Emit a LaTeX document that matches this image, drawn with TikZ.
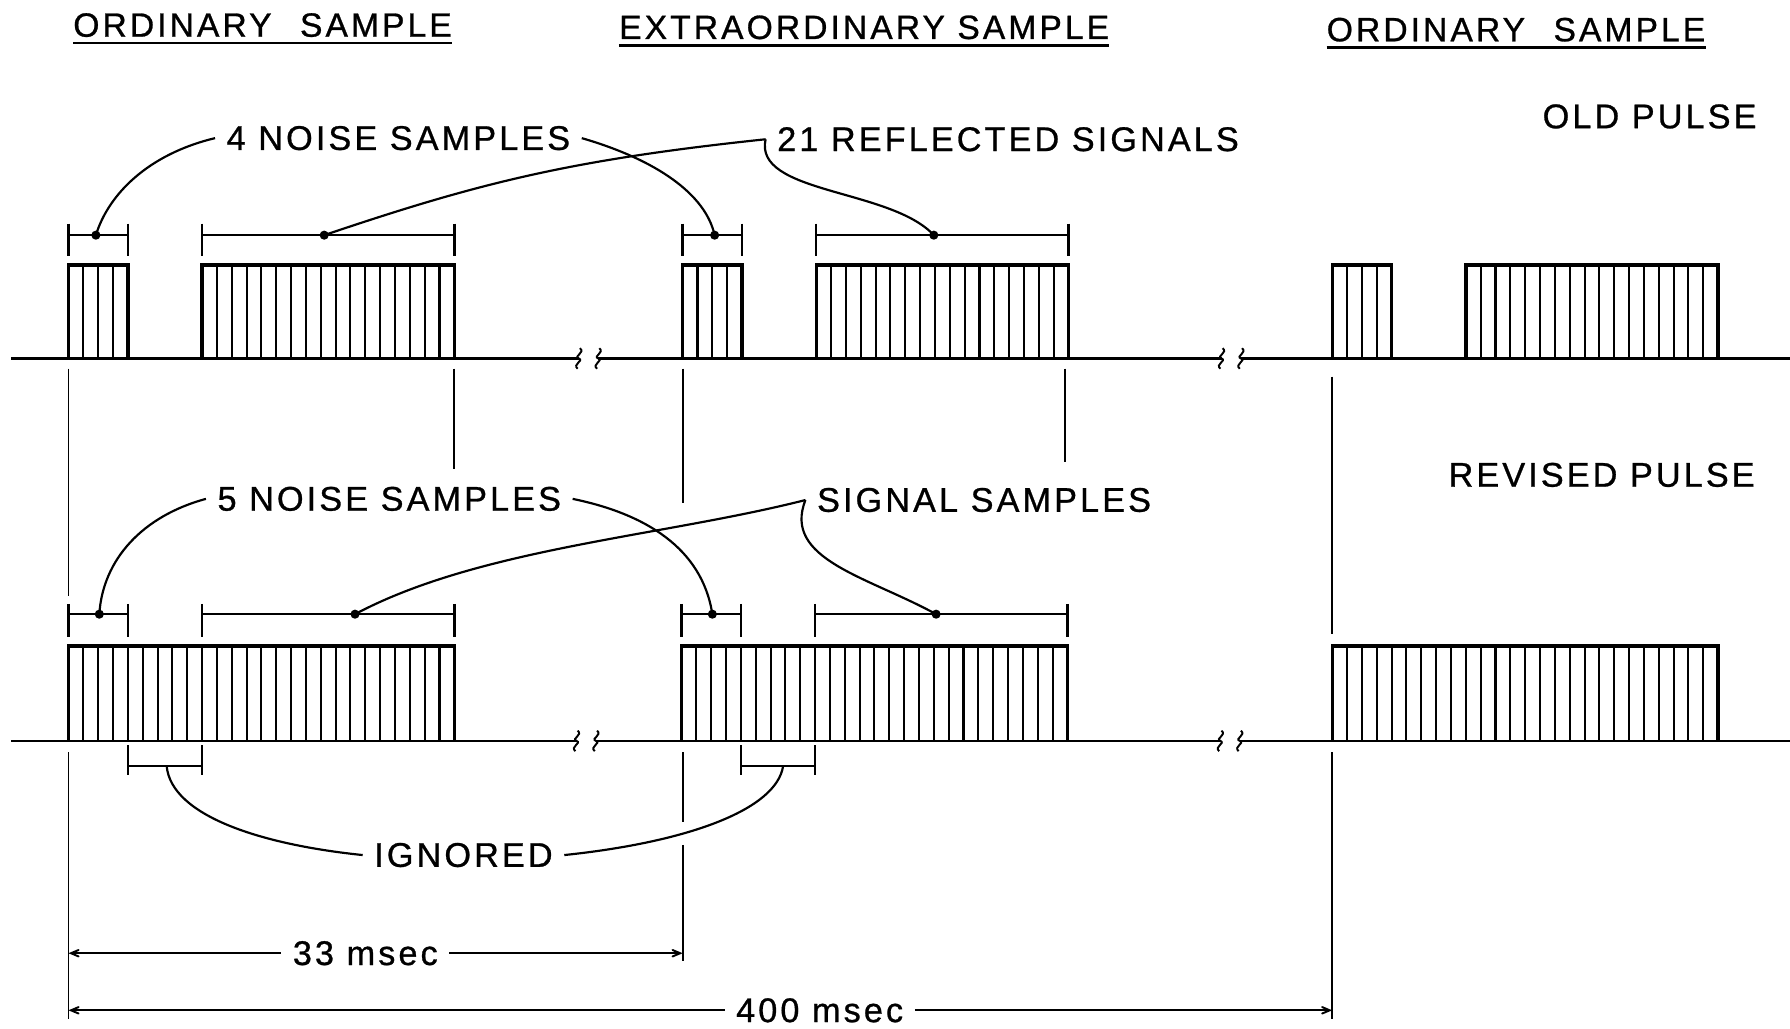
\documentclass[tikz,border=0pt]{standalone}
\usepackage{fontspec}
\setmainfont[LetterSpace=9, FakeBold=0.8]{Liberation Sans}
\usepackage{tikz}
\usetikzlibrary{arrows}
\tikzstyle{pulse} = [line width=3pt]
\tikzstyle{stripe} = [line width=1.8pt]
\tikzstyle{zeroline} = [line width=2.4pt]
\tikzstyle{samplebar} = [line width=2.2pt]
\tikzstyle{guide} = [line width=1.7pt]
\tikzstyle{leader} = [line width=1.9pt]
\tikzstyle{dimline} = [line width=1.7pt, >=angle 45]
\tikzstyle{tag} = [font=\fontsize{30}{32}\selectfont, inner xsep=10pt, inner ysep=3pt]
\tikzstyle{title} = [font=\fontsize{29.5}{32}\selectfont, inner xsep=0pt, inner ysep=5pt]

% one pulse: left x, cells, top y, base y
\newcommand{\pulsebox}[4]{%
  \draw [pulse] (#1,#4) -- (#1,#3) -- ({#1+#2*13},#3) -- ({#1+#2*13},#4);
  \pgfmathtruncatemacro{\lastcell}{#2-1}
  \foreach \k in {1,...,\lastcell}
    \draw [stripe] ({#1+\k*13},#3) -- ({#1+\k*13},#4);
}
% bracket: x0, x1, y, tick top, tick bottom
\newcommand{\spanbar}[5]{%
  \draw [samplebar] (#1,#4) -- (#1,#5) (#2,#4) -- (#2,#5) (#1,#3) -- (#2,#3);
}
% time break on the line
\newcommand{\gapmark}[2]{%
  \draw [guide] ({#1+1},{#2-9}) .. controls ({#1+6},{#2-5}) and ({#1-5},{#2-2}) .. (#1,#2)
    .. controls ({#1+5},{#2+2}) and ({#1-6},{#2+5}) .. ({#1-1},{#2+9});
}

\begin{document}
\begin{tikzpicture}[x=1pt, y=-1pt]
    \useasboundingbox (0,0) rectangle (1568,901);

    \node (ord1) [title] at (230,22) {ORDINARY\hspace{14pt} SAMPLE};
    \node (extra) [title] at (757,24) {EXTRAORDINARY\ SAMPLE};
    \node (ord2) [title] at (1328,26) {ORDINARY\hspace{14pt} SAMPLE};
    \foreach \t in {ord1,extra,ord2}
        \draw [samplebar] (\t.south west) -- (\t.south east);

    \node (oldp) [tag] at (1445,102) {OLD PULSE};
    \node (revp) [tag] at (1403,416) {REVISED PULSE};
    \node (noise4) [tag] at (349,121) {4 NOISE SAMPLES};
    \node (refl) [tag] at (883,122) {21 REFLECTED SIGNALS};
    \node (noise5) [tag] at (341,437) {5 NOISE SAMPLES};
    \node (sigs) [tag] at (862,438) {SIGNAL\ SAMPLES};
    \node (ign) [tag] at (406,749) {IGNORED};
    \node (t33) [tag] at (320,835) {33 msec};
    \node (t400) [tag] at (718,885) {400 msec};

    % base lines with breaks
    \draw [zeroline] (10,314) -- (507,314) (524,314) -- (1070,314) (1087,314) -- (1568,314);
    \draw [zeroline] (10,649) -- (505,649) (522,649) -- (1069,649) (1086,649) -- (1568,649);
    \foreach \x in {507,524,1070,1087} \gapmark{\x}{314};
    \foreach \x in {505,522,1069,1086} \gapmark{\x}{649};

    % old pulse
    \foreach \x in {60,598,1167} {\pulsebox{\x}{4}{232}{314} \pulsebox{\x+117}{17}{232}{314}}
    \foreach \x in {60,598} {\spanbar{\x}{\x+52}{206}{196}{224} \spanbar{\x+117}{\x+338}{206}{196}{224}}
    % revised pulse
    \foreach \x in {60,597,1167} \pulsebox{\x}{26}{566}{649};
    \foreach \x in {60,597} {\spanbar{\x}{\x+52}{538}{529}{558} \spanbar{\x+117}{\x+338}{538}{529}{558}
        \spanbar{\x+52}{\x+117}{671}{653}{679}}

    \coordinate (n4a) at (84,206);
    \coordinate (r21a) at (284,206);
    \coordinate (n4c) at (626,206);
    \coordinate (r21b) at (818,206);
    \coordinate (n5a) at (87,538);
    \coordinate (s5a) at (311,538);
    \coordinate (n5c) at (624,538);
    \coordinate (s5c) at (820,538);
    \coordinate (ig1) at (146,671);
    \coordinate (ig2) at (686,671);
    \foreach \c in {n4a,r21a,n4c,r21b,n5a,s5a,n5c,s5c} \fill (\c) circle (4pt);

    \draw [leader] (noise4.west) .. controls (130,135) and (95,170) .. (n4a);
    \draw [leader] (noise4.east) .. controls (575,140) and (618,170) .. (n4c);
    \draw [leader] (refl.west) .. controls (500,140) and (420,160) .. (r21a);
    \draw [leader] (refl.west) .. controls (660,170) and (780,165) .. (r21b);
    \draw [leader] (noise5.west) .. controls (125,452) and (90,490) .. (n5a);
    \draw [leader] (noise5.east) .. controls (565,450) and (615,480) .. (n5c);
    \draw [leader] (sigs.west) .. controls (580,470) and (420,480) .. (s5a);
    \draw [leader] (sigs.west) .. controls (685,490) and (760,505) .. (s5c);
    \draw [leader] (ign.west) .. controls (230,740) and (150,715) .. (ig1);
    \draw [leader] (ign.east) .. controls (600,738) and (680,710) .. (ig2);

    % extension lines
    \draw [guide] (60,323) -- (60,522) (398,323) -- (398,411) (598,323) -- (598,441)
        (933,323) -- (933,405) (1167,330) -- (1167,555);
    \draw [guide] (60,659) -- (60,893) (598,659) -- (598,720) (598,740) -- (598,842)
        (1167,659) -- (1167,893);

    \coordinate (d0) at (60,835);
    \coordinate (d33) at (598,835);
    \coordinate (e0) at (60,885);
    \coordinate (e400) at (1167,885);
    \draw [dimline,<-] (d0) -- (t33.west);
    \draw [dimline,->] (t33.east) -- (d33);
    \draw [dimline,<-] (e0) -- (t400.west);
    \draw [dimline,->] (t400.east) -- (e400);
\end{tikzpicture}
\end{document}
